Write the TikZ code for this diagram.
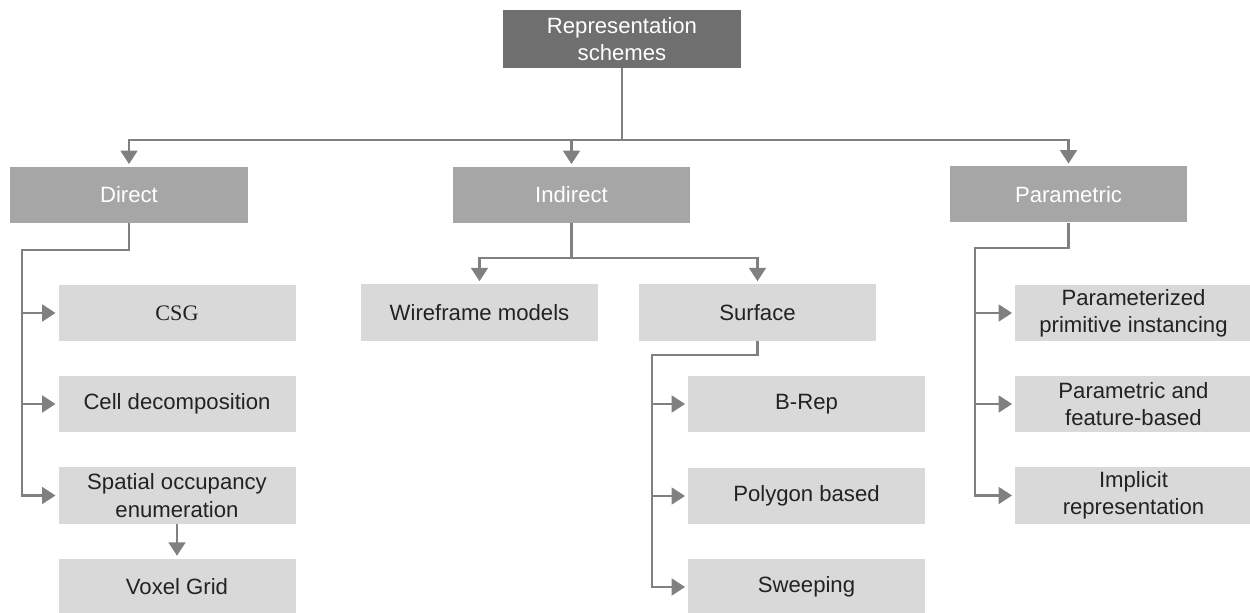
\documentclass[tikz,border=0pt]{standalone}
\usepackage{fontspec}
\setmainfont{Liberation Sans}
\newfontfamily\serifcsg{Liberation Serif}
\usetikzlibrary{arrows.meta}

\definecolor{headfill}{HTML}{6F6F6F}
\definecolor{catfill}{HTML}{A6A6A6}
\definecolor{leaffill}{HTML}{D9D9D9}
\definecolor{wire}{HTML}{808080}
\definecolor{leaftext}{HTML}{222222}

\tikzset{
  basebox/.style={rectangle, inner sep=0pt, align=center,
    font=\fontsize{16.6}{20.5}\selectfont},
  headbox/.style={basebox, fill=headfill, text=white,
    minimum width=178.5pt, minimum height=43.5pt},
  catbox/.style={basebox, fill=catfill, text=white,
    minimum width=178pt, minimum height=42pt},
  leafbox/.style={basebox, fill=leaffill, text=leaftext,
    minimum width=177.75pt, minimum height=42.5pt},
  link/.style={draw=wire, line width=1.8pt},
  arr/.style={link, -{Triangle[width=12.5pt,length=10pt]}, shorten >=2pt},
}

\begin{document}
\begin{tikzpicture}[x=0.75pt,y=-0.75pt]
\useasboundingbox (0,0) rectangle (1250,613);

% root
\node[headbox] (root) at (622,39) {Representation\\schemes};

% categories
\node[catbox] (direct)   at (129,195)    {Direct};
\node[catbox] (indirect) at (571.5,195)  {Indirect};
\node[catbox] (param)    at (1068.5,194.5) {Parametric};

% direct branch
\node[leafbox, font=\serifcsg\fontsize{16.6}{20.5}\selectfont] (csg) at (177,313) {CSG};
\node[leafbox] (cell)    at (177,404)   {Cell decomposition};
\node[leafbox] (spatial) at (177,495.5) {Spatial occupancy\\enumeration};
\node[leafbox] (voxel)   at (177,587)   {Voxel Grid};

% indirect branch
\node[leafbox] (wireframe) at (479.5,312.5) {Wireframe models};
\node[leafbox] (surface)   at (757.5,312.5) {Surface};
\node[leafbox] (brep)  at (806.5,404) {B-Rep};
\node[leafbox] (poly)  at (806.5,496) {Polygon based};
\node[leafbox] (sweep) at (806.5,587) {Sweeping};

% parametric branch
\node[leafbox] (ppi)  at (1133.5,313)   {Parameterized\\primitive instancing};
\node[leafbox] (pfb)  at (1133.5,404)   {Parametric and\\feature-based};
\node[leafbox] (impl) at (1133.5,495.5) {Implicit\\representation};

% bus lines / turning points
\coordinate (bus) at (622,140);
\coordinate (dleft) at (22,250);
\coordinate (ibus) at (571.5,258);
\coordinate (sleft) at (652,355);
\coordinate (pleft) at (975,248);

% root to categories
\draw[link] (root.south) -- (bus);
\draw[arr] (bus) -| (direct.north);
\draw[arr] (bus) -| (indirect.north);
\draw[arr] (bus) -| (param.north);

% direct
\draw[arr] (direct.south) |- (dleft) |- (spatial.west);
\draw[arr] (dleft |- csg.west) -- (csg.west);
\draw[arr] (dleft |- cell.west) -- (cell.west);
\draw[arr] (spatial.south) -- (voxel.north);

% indirect
\draw[link] (indirect.south) -- (ibus);
\draw[arr] (ibus) -| (wireframe.north);
\draw[arr] (ibus) -| (surface.north);

% surface
\draw[arr] (surface.south) |- (sleft) |- (sweep.west);
\draw[arr] (sleft |- brep.west) -- (brep.west);
\draw[arr] (sleft |- poly.west) -- (poly.west);

% parametric
\draw[arr] (param.south) |- (pleft) |- (impl.west);
\draw[arr] (pleft |- ppi.west) -- (ppi.west);
\draw[arr] (pleft |- pfb.west) -- (pfb.west);
\end{tikzpicture}
\end{document}
